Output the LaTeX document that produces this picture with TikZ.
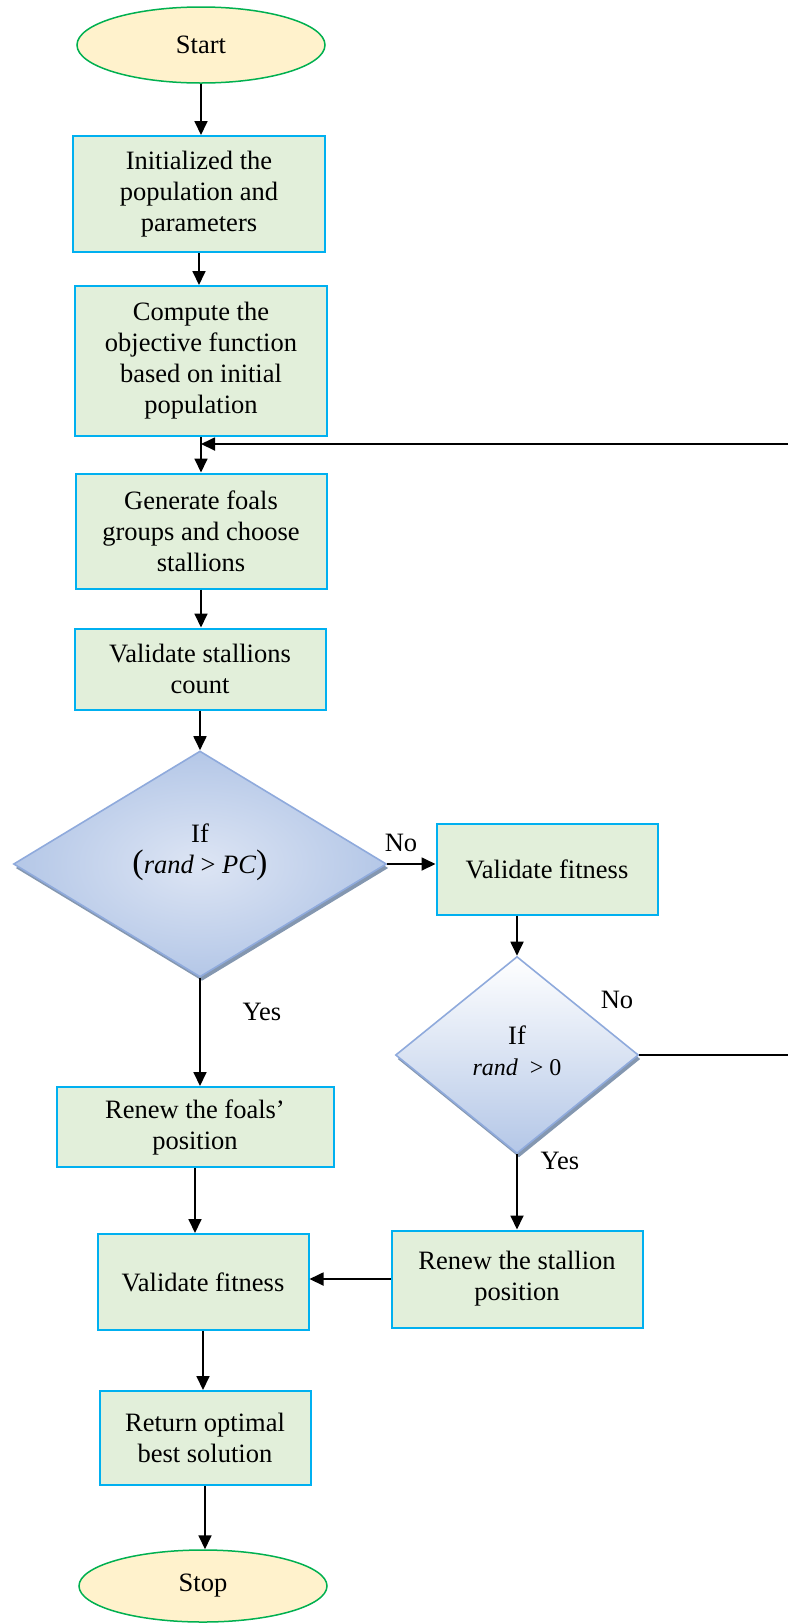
\documentclass[tikz,border=0pt]{standalone}
\usepackage{fontspec}
\setmainfont{Liberation Serif}
\usetikzlibrary{shapes.geometric,arrows.meta,shadows}

\definecolor{boxfill}{HTML}{E2EFDA}
\definecolor{boxline}{HTML}{00B0F0}
\definecolor{ovalfill}{HTML}{FFF2CC}
\definecolor{ovalline}{HTML}{00B050}
\definecolor{dialight}{HTML}{DDE5F4}
\definecolor{diadark}{HTML}{B4C7E7}
\definecolor{dialine}{HTML}{8FAADC}
\definecolor{diashade}{HTML}{8497B0}

\tikzset{
  terminal/.style={ellipse, draw=ovalline, fill=ovalfill, line width=1.5pt,
    minimum width=248pt, minimum height=76pt, inner sep=0pt},
  process/.style={rectangle, draw=boxline, fill=boxfill, line width=2pt,
    align=center, inner sep=0pt},
  decision/.style={diamond, draw=dialine, line width=1.6pt, align=center,
    inner sep=0pt,
    drop shadow={shadow xshift=2pt,shadow yshift=-4pt,fill=diashade,opacity=1}},
  arrow/.style={line width=1.8pt, -{Triangle[length=14pt,width=13pt]}},
  line/.style={line width=1.8pt},
  tag/.style={inner sep=0pt, align=center}
}

\newcommand{\bigparen}[1]{{\fontsize{34}{31}\selectfont #1}}

\begin{document}
\begin{tikzpicture}[x=1pt,y=-1pt,font=\fontsize{26.5}{31}\selectfont]
   \useasboundingbox (0,0) rectangle (788,1623);

   % main column
   \node[terminal] (start) at (201,45) {Start};
   \node[process, minimum width=252pt, minimum height=116pt] (init) at (199,194)
      {Initialized the\\population and\\parameters};
   \node[process, minimum width=252pt, minimum height=150pt] (compute) at (201,361)
      {Compute the\\objective function\\based on initial\\population};
   \node[process, minimum width=251pt, minimum height=115pt] (generate) at (201,531)
      {Generate foals\\groups and choose\\stallions};
   \node[process, minimum width=251pt, minimum height=81pt] (count) at (200,669)
      {Validate stallions\\count};
   \node[decision, minimum width=373pt, minimum height=226pt,
      shading=radial, inner color=dialight, outer color=diadark] (pc) at (200,864) {};
   \node[tag] (pctext) at ([yshift=12pt]pc.center)
      {If\\\bigparen{(}\textit{rand} > \textit{PC}\bigparen{)}};

   % right branch
   \node[process, minimum width=221pt, minimum height=91pt] (vfit) at (547,869)
      {Validate fitness};
   \node[decision, minimum width=243pt, minimum height=197pt,
      top color=white, bottom color=diadark] (zero) at (517,1055) {};
   \node[tag] (zerotext) at ([yshift=4pt]zero.center)
      {If\\{\fontsize{24}{31}\selectfont\textit{rand}\ \ > 0}};
   \node[process, minimum width=251pt, minimum height=97pt] (stallion) at (517,1279)
      {Renew the stallion\\position};

   % left branch
   \node[process, minimum width=277pt, minimum height=80pt] (foals) at (195,1127)
      {Renew the foals'\\position};
   \node[process, minimum width=211pt, minimum height=96pt] (vfl) at (203,1282)
      {Validate fitness};
   \node[process, minimum width=211pt, minimum height=94pt] (best) at (205,1438)
      {Return optimal\\best solution};
   \node[terminal, minimum height=72pt] (stop) at (203,1586) {Stop};

   % labels
   \node[tag] (no1) at (401,843) {No};
   \node[tag] (yes1) at (262,1012) {Yes};
   \node[tag] (no2) at (617,1000) {No};
   \node[tag] (yes2) at (560,1161) {Yes};

   % loop ends at the right edge
   \coordinate (loopin) at (788,444);
   \coordinate (loopout) at (788,1055);

   % connectors
   \draw[arrow] (start.south) -- (start.south |- init.north);
   \draw[arrow] (init.south) -- (init.south |- compute.north);
   \draw[arrow] (compute.south) -- (compute.south |- generate.north);
   \draw[arrow] (loopin) -- (loopin -| compute.south);
   \draw[arrow] (generate.south) -- (generate.south |- count.north);
   \draw[arrow] (count.south) -- (count.south |- pc.north);
   \draw[arrow] (pc.east) -- (pc.east -| vfit.west);
   \draw[arrow] (pc.south) -- (pc.south |- foals.north);
   \draw[arrow] (zero.north |- vfit.south) -- (zero.north);
   \draw[line] (zero.east) -- (loopout);
   \draw[arrow] (zero.south) -- (zero.south |- stallion.north);
   \draw[arrow] (stallion.west) -- (stallion.west -| vfl.east);
   \draw[arrow] (foals.south) -- (foals.south |- vfl.north);
   \draw[arrow] (vfl.south) -- (vfl.south |- best.north);
   \draw[arrow] (best.south) -- (best.south |- stop.north);
\end{tikzpicture}
\end{document}
